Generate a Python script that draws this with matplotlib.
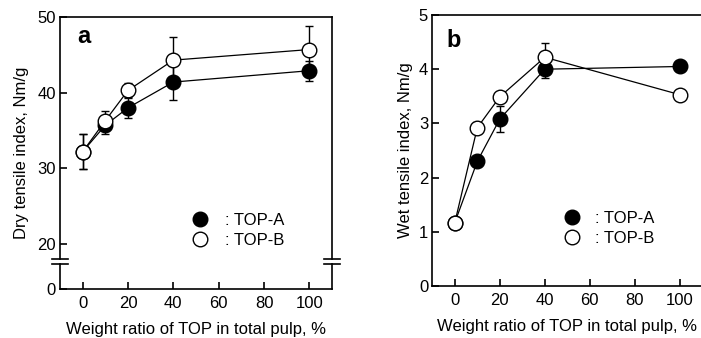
import numpy as np
import matplotlib
matplotlib.use('Agg')
import matplotlib.pyplot as plt
from matplotlib.lines import Line2D

plt.rcParams['font.family'] = ['Liberation Sans', 'DejaVu Sans']
plt.rcParams['font.size'] = 12

# Dữ liệu
ratio = [0, 10, 20, 40, 100]
dry_a = [32.2, 35.7, 38.0, 41.4, 42.9]
dry_a_err = [2.3, 1.2, 1.4, 2.4, 1.3]
dry_b = [32.2, 36.3, 40.3, 44.3, 45.7]
dry_b_err = [2.3, 1.3, 1.0, 3.0, 3.1]
wet_a = [1.17, 2.30, 3.08, 4.00, 4.05]
wet_a_err = [0.05, 0.07, 0.24, 0.16, 0.08]
wet_b = [1.17, 2.92, 3.49, 4.22, 3.53]
wet_b_err = [0.05, 0.10, 0.06, 0.26, 0.04]
series_labels = [': TOP-A', ': TOP-B']
xticks = [0, 20, 40, 60, 80, 100]

# Trục y bị ngắt (0-20 được nén lại)
K = 0.2975


def fwd(y):
    y = np.asarray(y, dtype=float)
    return np.where(y >= 20, y, 20 - (20 - y) * K)


def inv(v):
    v = np.asarray(v, dtype=float)
    return np.where(v >= 20, v, 20 - (20 - v) / K)


fig = plt.figure(figsize=(7.01, 3.38), dpi=100)
ax1 = fig.add_axes([60 / 701, 49 / 338, 272 / 701, 272 / 338])
ax2 = fig.add_axes([432.3 / 701, 52 / 338, 270 / 701, 271 / 338])


def draw_series(ax, y, err, face):
    ax.errorbar(ratio, y, yerr=err, fmt='none', ecolor='black', elinewidth=1.0,
                capsize=3, capthick=1.0, zorder=2)
    ax.plot(ratio, y, color='black', lw=0.9, marker='o', markersize=10.5,
            markerfacecolor=face, markeredgecolor='black', markeredgewidth=1.0, zorder=3)


for ax in (ax1, ax2):
    ax.set_xlim(-10, 110)
    ax.set_xticks(xticks)
    ax.tick_params(direction='in', length=5, width=1.2, labelsize=12, pad=3)
    ax.tick_params(axis='x', pad=5)
    for s in ax.spines.values():
        s.set_linewidth(1.2)

# Hình a
draw_series(ax1, dry_a, dry_a_err, 'black')
draw_series(ax1, dry_b, dry_b_err, 'white')
ax1.set_yscale('function', functions=(fwd, inv))
ax1.set_ylim(0, 50)
ax1.set_yticks([0, 20, 30, 40, 50])
ax1.set_yticklabels(['0', '20', '30', '40', '50'])
ax1.minorticks_off()
ax1.spines['left'].set_visible(False)
ax1.spines['right'].set_visible(False)
lo, hi, w = 0.092, 0.110, 0.029
for xs in (0, 1):
    ax1.plot([xs, xs], [0, lo], transform=ax1.transAxes, clip_on=False, color='black', lw=1.2)
    ax1.plot([xs, xs], [hi, 1], transform=ax1.transAxes, clip_on=False, color='black', lw=1.2)
    for yy in (lo, hi):
        ax1.plot([xs - w, xs + w], [yy, yy], transform=ax1.transAxes, clip_on=False,
                 color='black', lw=1.2)
ax1.set_ylabel('Dry tensile index, Nm/g', fontsize=12, labelpad=6)
ax1.set_xlabel('Weight ratio of TOP in total pulp, %', fontsize=12, labelpad=8)
ax1.text(0.0625, 0.904, 'a', transform=ax1.transAxes, fontsize=17, fontweight='bold', va='baseline')

# Hình b
draw_series(ax2, wet_a, wet_a_err, 'black')
draw_series(ax2, wet_b, wet_b_err, 'white')
ax2.set_ylim(0, 5)
ax2.set_yticks([0, 1, 2, 3, 4, 5])
ax2.set_ylabel('Wet tensile index, Nm/g', fontsize=12, labelpad=4)
ax2.set_xlabel('Weight ratio of TOP in total pulp, %', fontsize=12, labelpad=8)
ax2.text(0.053, 0.882, 'b', transform=ax2.transAxes, fontsize=17, fontweight='bold', va='baseline')

# Chú thích
for ax, anchor, tp in ((ax1, (0.485, 0.215), 1.0), (ax2, (0.487, 0.212), 0.9)):
    handles = [Line2D([], [], ls='none', marker='o', markersize=10.5, markerfacecolor=f,
                      markeredgecolor='black', markeredgewidth=1.0) for f in ('black', 'white')]
    ax.legend(handles, series_labels, loc='center left', bbox_to_anchor=anchor, frameon=False,
              fontsize=12, handlelength=1.0, handletextpad=tp, labelspacing=0.32,
              borderpad=0, borderaxespad=0)

fig.savefig('out.png', dpi=100)
